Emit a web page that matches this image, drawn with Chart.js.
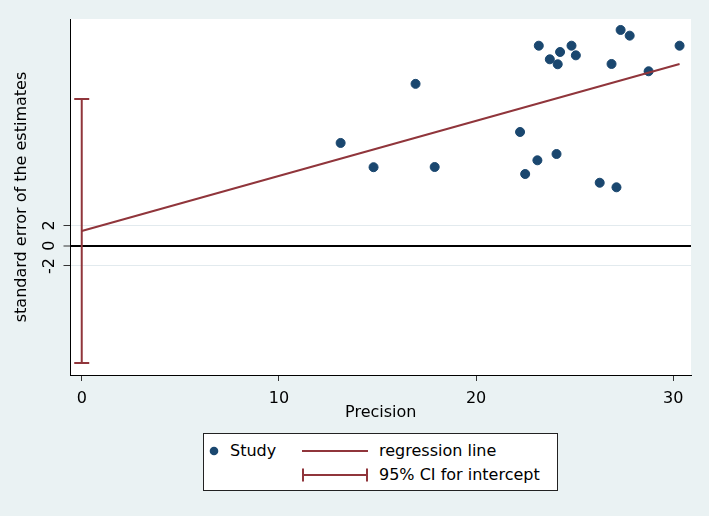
<!DOCTYPE html>
<html>
<head>
<meta charset="utf-8">
<script src="https://cdn.jsdelivr.net/npm/chart.js@4.4.1/dist/chart.umd.min.js"></script>
<style>
  html, body { margin: 0; padding: 0; background: #eaf2f3; }
  #wrap { position: relative; width: 709px; height: 516px; }
  #legend {
    position: absolute; left: 203px; top: 433px; width: 355px; height: 58px;
    box-sizing: border-box; background: #fff; border: 1px solid #222;
    font: 16px "DejaVu Sans", sans-serif; color: #000;
  }
  #legend .lbl { position: absolute; line-height: 20px; white-space: nowrap; }
  #legend svg { position: absolute; left: 0; top: 0; }
</style>
</head>
<body>
<div id="wrap">
  <canvas id="egger" width="709" height="516"></canvas>
  <div id="legend">
    <svg width="353" height="56">
      <circle cx="10" cy="17" r="4.3" fill="#1a476f"></circle>
      <line x1="98" y1="17" x2="164" y2="17" stroke="#90353b" stroke-width="2"></line>
      <line x1="98" y1="41" x2="164" y2="41" stroke="#90353b" stroke-width="2"></line>
      <line x1="99" y1="34.5" x2="99" y2="47.5" stroke="#90353b" stroke-width="2"></line>
      <line x1="163" y1="34.5" x2="163" y2="47.5" stroke="#90353b" stroke-width="2"></line>
    </svg>
    <span class="lbl" style="left:26px; top:7px;">Study</span>
    <span class="lbl" style="left:175px; top:7px;">regression line</span>
    <span class="lbl" style="left:175px; top:31px;">95% CI for intercept</span>
  </div>
</div>
<script>
// studies: precision vs standardised effect
var studyX = [13.13, 14.80, 16.93, 17.90, 22.23, 22.49, 23.11, 23.18, 23.74, 24.14, 24.26,
              24.08, 24.84, 25.06, 26.27, 26.87, 27.12, 27.33, 27.79, 28.75, 30.32]
var studyY = [10.12, 7.73, 15.94, 7.75, 11.20, 7.06, 8.41, 19.70, 18.36, 17.87, 19.08,
              9.03, 19.70, 18.75, 6.20, 17.90, 5.75, 21.25, 20.69, 17.18, 19.70]

// regression line ends
var regX = [0, 30.32]
var regY = [1.45, 17.9]

// 95% CI for intercept
var ciX = [0, 0]
var ciY = [-11.56, 14.45]

var xTicks = [0, 10, 20, 30]
var yTicks = [-2, 0, 2]

var navy = '#1a476f'
var maroon = '#90353b'

function pts(xs, ys) {
  return xs.map(function (x, i) { return { x: x, y: ys[i] } })
}

Chart.defaults.font.family = '"DejaVu Sans", sans-serif'
Chart.defaults.font.size = 16
Chart.defaults.color = '#000'

// white plot region on the bluish background
var plotBg = {
  id: 'plotBg',
  beforeDraw: function (chart) {
    var a = chart.chartArea
    var ctx = chart.ctx
    ctx.save()
    ctx.fillStyle = '#fff'
    ctx.fillRect(a.left, a.top, a.right - a.left, a.bottom - a.top)
    ctx.restore()
  }
}

new Chart(document.getElementById('egger').getContext('2d'), {
  type: 'scatter',
  data: {
    datasets: [
      {
        label: 'Study',
        data: pts(studyX, studyY),
        backgroundColor: navy,
        borderColor: navy,
        pointRadius: 4.5,
        order: 3
      },
      {
        label: 'regression line',
        type: 'line',
        data: pts(regX, regY),
        borderColor: maroon,
        borderWidth: 2,
        pointRadius: 0,
        order: 2
      },
      {
        label: '95% CI for intercept',
        type: 'line',
        data: pts(ciX, ciY),
        borderColor: maroon,
        borderWidth: 2,
        pointStyle: 'line',
        pointRadius: 7.5,
        pointBorderWidth: 2,
        pointBorderColor: maroon,
        order: 1
      }
    ]
  },
  options: {
    responsive: false,
    animation: false,
    layout: { padding: { left: 0, top: 19, right: 18, bottom: 94 } },
    plugins: {
      legend: { display: false },
      tooltip: { enabled: false }
    },
    scales: {
      x: {
        type: 'linear',
        min: -0.57,
        max: 30.9,
        afterBuildTicks: function (s) { s.ticks = xTicks.map(function (v) { return { value: v } }) },
        afterFit: function (s) { s.height = 47 },
        grid: { display: true, drawOnChartArea: false, drawTicks: true, tickLength: 6, tickColor: '#333' },
        border: { display: true, color: '#000', width: 1 },
        ticks: { padding: 8 },
        title: { display: true, text: 'Precision', padding: { top: 0, bottom: 0 } }
      },
      y: {
        type: 'linear',
        min: -12.74,
        max: 22.33,
        afterBuildTicks: function (s) { s.ticks = yTicks.map(function (v) { return { value: v } }) },
        afterFit: function (s) { s.width = 70.5 },
        grid: {
          color: function (c) { return c.tick && c.tick.value === 0 ? '#000' : '#e2eaee' },
          lineWidth: function (c) { return c.tick && c.tick.value === 0 ? 2 : 1 },
          tickColor: '#333',
          tickWidth: 1,
          tickLength: 7
        },
        border: { display: true, color: '#000', width: 1 },
        ticks: { minRotation: 90, maxRotation: 90, crossAlign: 'center', padding: 6 },
        title: { display: true, text: 'standard error of the estimates', padding: { top: 12, bottom: 0 } }
      }
    }
  },
  plugins: [plotBg]
})
</script>
</body>
</html>
